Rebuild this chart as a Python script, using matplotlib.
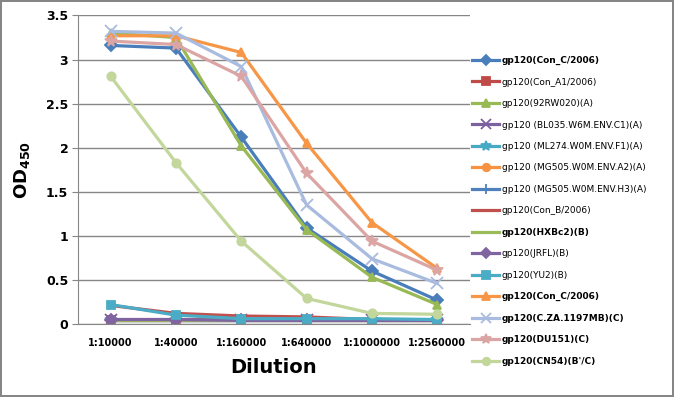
import matplotlib.pyplot as plt
import numpy as np

# dilution steps on the x axis
dilutions = ['1:10000', '1:40000', '1:160000', '1:640000', '1:1000000', '1:2560000']

# OD450 readings per gp120 antigen
con_c_2006 = [3.16, 3.13, 2.12, 1.09, 0.60, 0.27]
con_a1_2006 = [0.05, 0.05, 0.05, 0.05, 0.05, 0.04]
rw020 = [3.30, 3.25, 2.02, 1.07, 0.53, 0.22]
bl035 = [0.04, 0.04, 0.04, 0.04, 0.04, 0.04]
ml274 = [0.05, 0.05, 0.05, 0.05, 0.05, 0.05]
mg505_a2 = [0.04, 0.04, 0.04, 0.04, 0.04, 0.04]
mg505_h3 = [0.05, 0.05, 0.05, 0.05, 0.05, 0.05]
con_b_2006 = [0.21, 0.12, 0.09, 0.08, 0.05, 0.04]
hxbc2 = [0.04, 0.04, 0.04, 0.04, 0.04, 0.04]
jrfl = [0.05, 0.05, 0.04, 0.04, 0.04, 0.04]
yu2 = [0.22, 0.10, 0.06, 0.06, 0.06, 0.05]
con_c_2006b = [3.27, 3.27, 3.08, 2.05, 1.15, 0.63]
cza1197 = [3.32, 3.30, 2.92, 1.35, 0.74, 0.46]
du151 = [3.21, 3.17, 2.81, 1.71, 0.94, 0.61]
cn54 = [2.81, 1.83, 0.94, 0.29, 0.12, 0.11]

series = [
    ('gp120(Con_C/2006)', con_c_2006, '#4A7EBB', 'D', True),
    ('gp120(Con_A1/2006)', con_a1_2006, '#BE4B48', 's', False),
    ('gp120(92RW020)(A)', rw020, '#98B954', '^', False),
    ('gp120 (BL035.W6M.ENV.C1)(A)', bl035, '#7D60A0', 'x', False),
    ('gp120 (ML274.W0M.ENV.F1)(A)', ml274, '#46AAC5', '*', False),
    ('gp120 (MG505.W0M.ENV.A2)(A)', mg505_a2, '#F69240', 'o', False),
    ('gp120 (MG505.W0M.ENV.H3)(A)', mg505_h3, '#4F81BD', '+', False),
    ('gp120(Con_B/2006)', con_b_2006, '#C0504D', '_', False),
    ('gp120(HXBc2)(B)', hxbc2, '#9BBB59', 'None', True),
    ('gp120(JRFL)(B)', jrfl, '#8064A2', 'D', False),
    ('gp120(YU2)(B)', yu2, '#4BACC6', 's', False),
    ('gp120(Con_C/2006)', con_c_2006b, '#F79646', '^', True),
    ('gp120(C.ZA.1197MB)(C)', cza1197, '#A9BBDF', 'x', True),
    ('gp120(DU151)(C)', du151, '#DBA5A4', '*', True),
    ('gp120(CN54)(B\'/C)', cn54, '#C3D69B', 'o', True),
]

fig = plt.figure(figsize=(6.74, 3.97), dpi=100, edgecolor='#868686', linewidth=1.5)
ax = fig.add_axes([0.1157, 0.184, 0.5815, 0.777])

x = np.arange(len(dilutions))
for name, vals, col, mk, bold in series:
    ms = 8.5 if mk in ('*', 'x', '+') else 6
    ax.plot(x, vals, color=col, lw=2.3, marker=mk, markersize=ms,
            markeredgewidth=1.3, label=name)

ax.set_xlim(-0.5, 5.5)
ax.set_ylim(0, 3.5)
ax.set_yticks(np.arange(0, 3.51, 0.5))
ax.set_yticklabels(['0', '0.5', '1', '1.5', '2', '2.5', '3', '3.5'],
                   fontweight='bold', fontsize=9)
ax.set_xticks(x)
ax.set_xticklabels(dilutions, fontweight='bold', fontsize=7.0)
ax.tick_params(axis='x', length=0, pad=10)
ax.tick_params(axis='y', length=4, color='#868686', pad=3)
ax.grid(axis='y', color='#868686', lw=1)
ax.set_axisbelow(True)
for s in ['top', 'right']:
    ax.spines[s].set_visible(False)
ax.spines['left'].set_color('#868686')
ax.spines['bottom'].set_color('#868686')

ax.set_xlabel('Dilution', fontweight='bold', fontsize=14, labelpad=7)
ax.set_ylabel('OD$_{\\mathbf{450}}$', fontweight='bold', fontsize=13, labelpad=10)

leg = fig.legend(loc='upper left', bbox_to_anchor=(0.695, 0.868), frameon=False,
                 fontsize=6.5, handlelength=3.0, handletextpad=0.3,
                 labelspacing=1.38, borderaxespad=0, markerscale=0.9)
for txt, s in zip(leg.get_texts(), series):
    if s[4]:
        txt.set_fontweight('bold')

fig.savefig('out.png', dpi=100)
